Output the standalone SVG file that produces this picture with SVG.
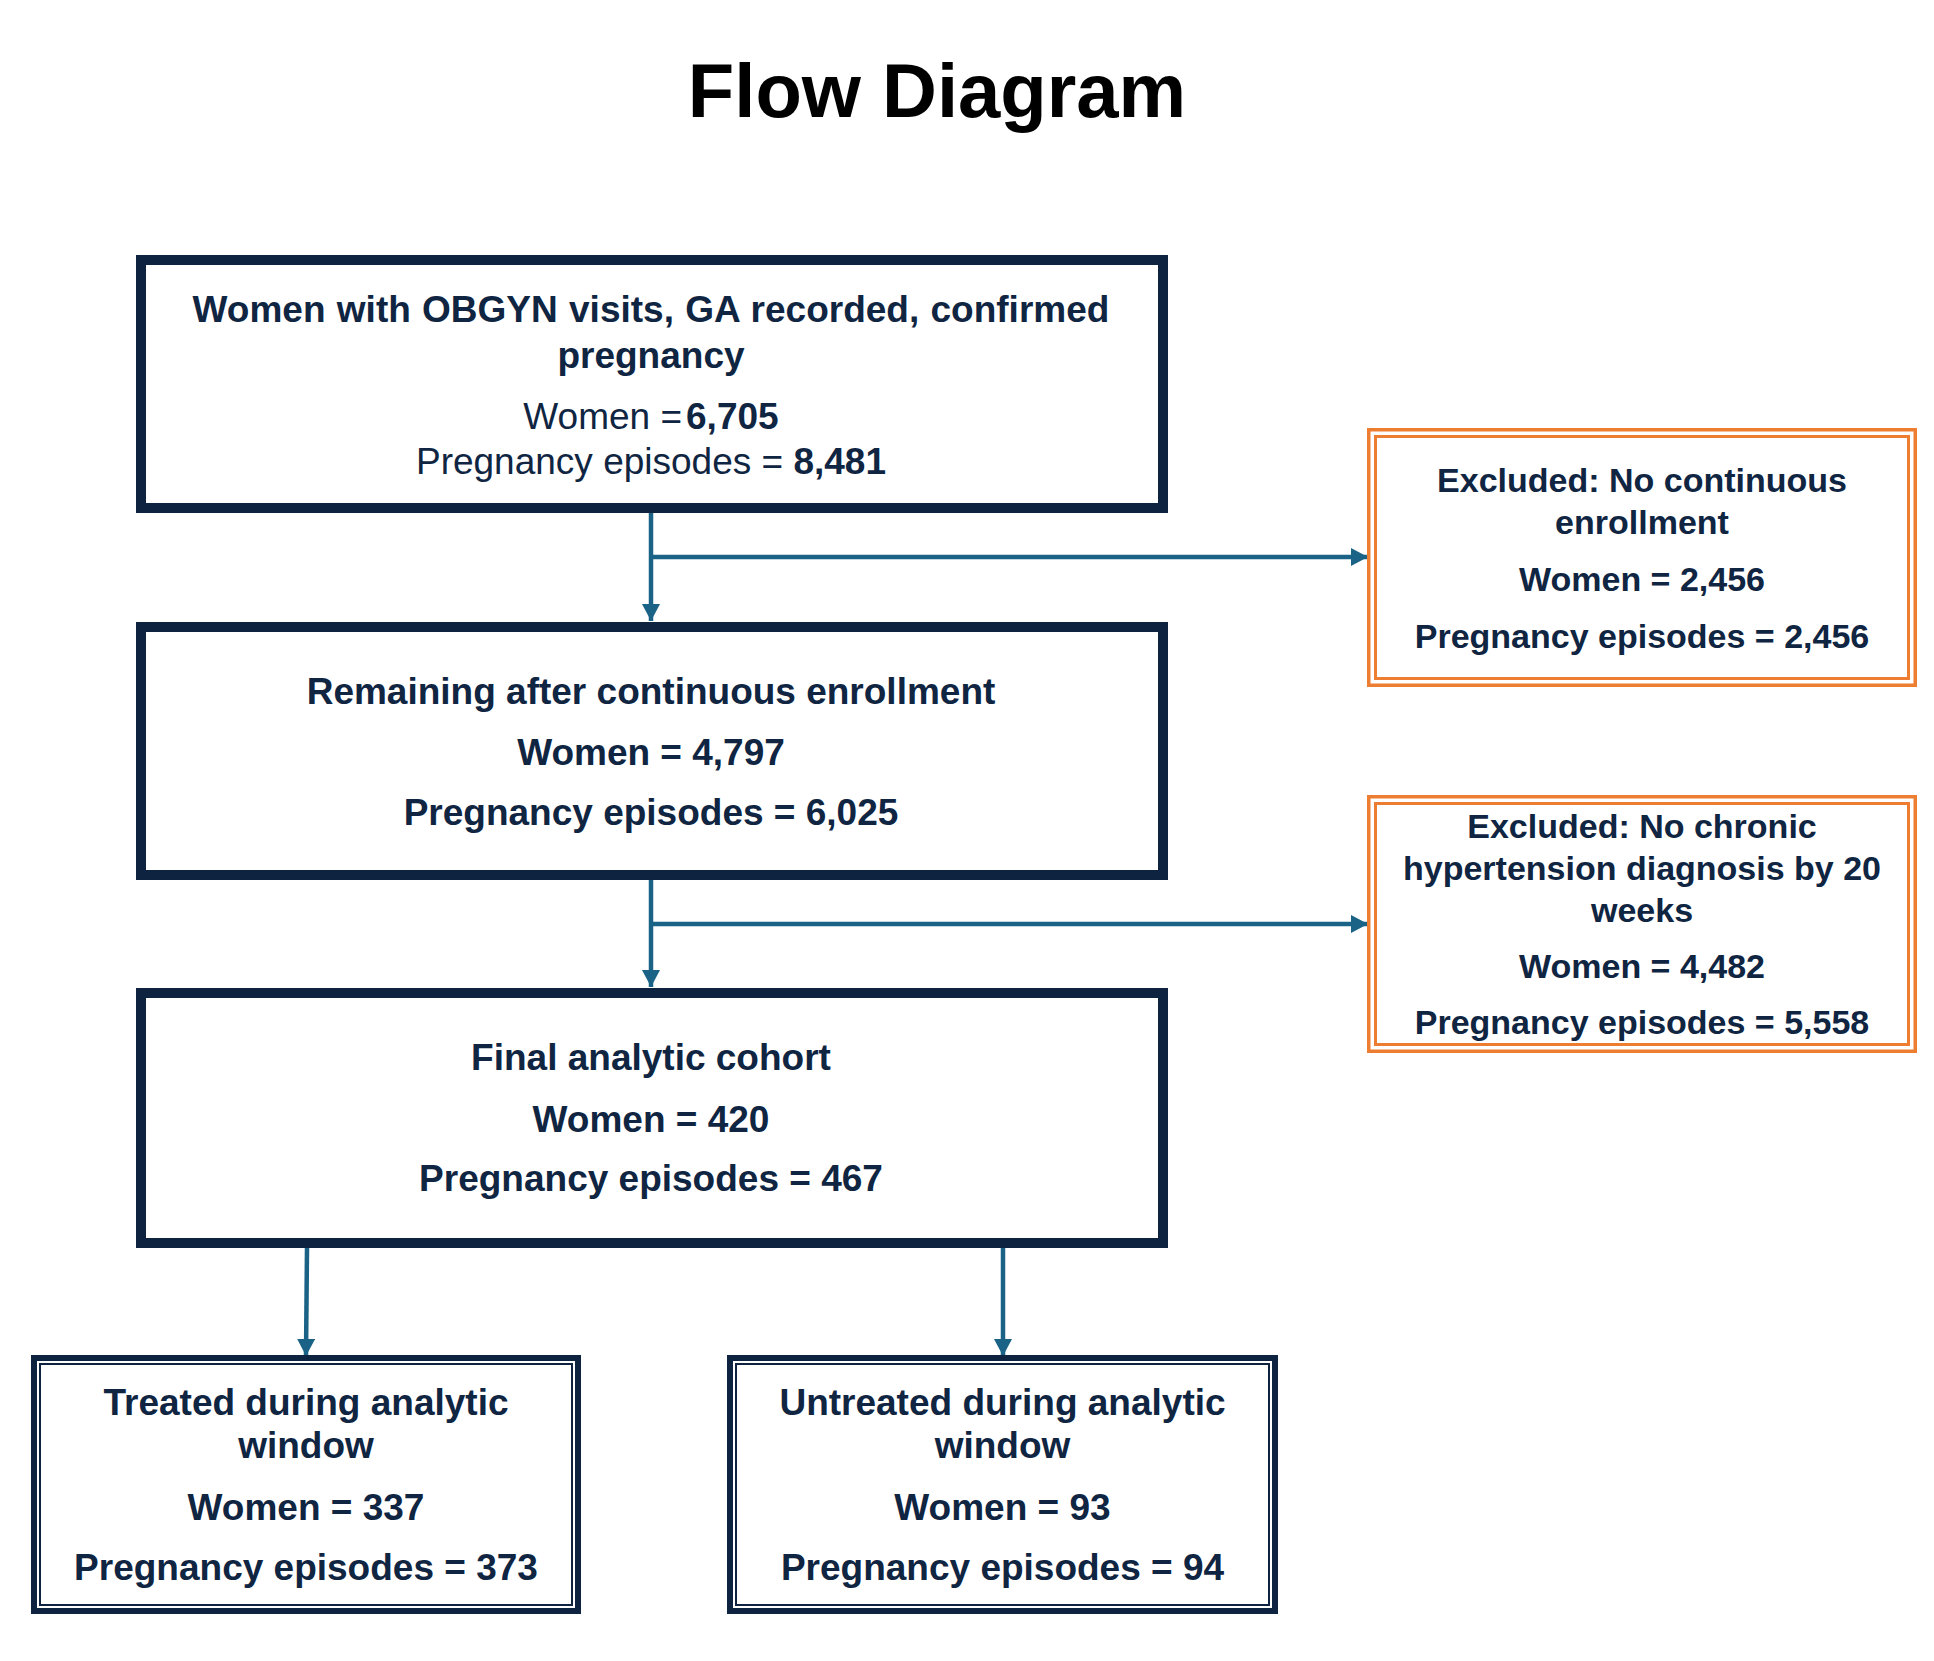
<svg xmlns="http://www.w3.org/2000/svg" width="1934" height="1661" viewBox="0 0 1934 1661">
  <style>
    .title { font-family: "Liberation Sans", Arial, sans-serif; font-weight: bold; font-size: 76px; fill: #000000; text-anchor: middle; }
    .t { font-family: "Liberation Sans", Arial, sans-serif; fill: #0f2542; text-anchor: middle; }
    .b37 { font-size: 37px; font-weight: bold; }
    .r37 { font-size: 37px; font-weight: normal; }
    .b34 { font-size: 34px; font-weight: bold; }
    .main { fill: #ffffff; stroke: #0e2340; stroke-width: 10; }
    .outer { fill: #ffffff; stroke: #0e2340; stroke-width: 6; }
    .inner { fill: none; stroke: #0e2340; stroke-width: 2; }
    .ex-outer { fill: #ffffff; stroke: #ed7d31; stroke-width: 3.5; }
    .ex-inner { fill: none; stroke: #ed7d31; stroke-width: 3; }
    .conn { fill: none; stroke: #1b6386; stroke-width: 4.5; }
  </style>
  <defs>
    <marker id="arrow" markerUnits="userSpaceOnUse" markerWidth="18" markerHeight="19" refX="17" refY="9" orient="auto">
      <path d="M0,0 L17,9 L0,18 z" fill="#1b6386"/>
    </marker>
  </defs>

  <rect width="1934" height="1661" fill="#ffffff"/>

  <text class="title" x="937" y="117">Flow Diagram</text>

  <!-- connectors -->
  <g id="connectors">
    <path class="conn" d="M651,513 V621" marker-end="url(#arrow)"/>
    <path class="conn" d="M651,557 H1368" marker-end="url(#arrow)"/>
    <path class="conn" d="M651,880 V987" marker-end="url(#arrow)"/>
    <path class="conn" d="M651,924 H1368" marker-end="url(#arrow)"/>
    <path class="conn" d="M307,1248 L306,1356" marker-end="url(#arrow)"/>
    <path class="conn" d="M1003,1248 V1356" marker-end="url(#arrow)"/>
  </g>

  <!-- initial population -->
  <g id="node-initial">
    <rect class="main" x="141" y="260" width="1022" height="248"/>
    <text class="t b37" x="651" y="322" word-spacing="1">Women with OBGYN visits, GA recorded, confirmed</text>
    <text class="t b37" x="651" y="368">pregnancy</text>
    <text class="t r37" x="651" y="429">Women =<tspan class="b37" dx="4">6,705</tspan></text>
    <text class="t r37" x="651" y="474">Pregnancy episodes = <tspan class="b37">8,481</tspan></text>
  </g>

  <!-- after continuous enrollment -->
  <g id="node-enrollment">
    <rect class="main" x="141" y="627" width="1022" height="248"/>
    <text class="t b37" x="651" y="704">Remaining after continuous enrollment</text>
    <text class="t b37" x="651" y="765">Women = 4,797</text>
    <text class="t b37" x="651" y="825">Pregnancy episodes = 6,025</text>
  </g>

  <!-- final cohort -->
  <g id="node-cohort">
    <rect class="main" x="141" y="993" width="1022" height="250"/>
    <text class="t b37" x="651" y="1070">Final analytic cohort</text>
    <text class="t b37" x="651" y="1132">Women = 420</text>
    <text class="t b37" x="651" y="1191">Pregnancy episodes = 467</text>
  </g>

  <!-- exclusion: enrollment -->
  <g id="node-excluded-enrollment">
    <rect class="ex-outer" x="1368.75" y="429.75" width="546.5" height="255.5"/>
    <rect class="ex-inner" x="1375.5" y="436.5" width="533" height="242"/>
    <text class="t b34" x="1642" y="492">Excluded: No continuous</text>
    <text class="t b34" x="1642" y="534">enrollment</text>
    <text class="t b34" x="1642" y="591">Women = 2,456</text>
    <text class="t b34" x="1642" y="648">Pregnancy episodes = 2,456</text>
  </g>

  <!-- exclusion: hypertension -->
  <g id="node-excluded-hypertension">
    <rect class="ex-outer" x="1368.75" y="796.75" width="546.5" height="254.5"/>
    <rect class="ex-inner" x="1375.5" y="803.5" width="533" height="241"/>
    <text class="t b34" x="1642" y="838">Excluded: No chronic</text>
    <text class="t b34" x="1642" y="880">hypertension diagnosis by 20</text>
    <text class="t b34" x="1642" y="922">weeks</text>
    <text class="t b34" x="1642" y="978">Women = 4,482</text>
    <text class="t b34" x="1642" y="1034">Pregnancy episodes = 5,558</text>
  </g>

  <!-- treated -->
  <g id="node-treated">
    <rect class="outer" x="34" y="1358" width="544" height="253"/>
    <rect class="inner" x="40" y="1364" width="532" height="241"/>
    <text class="t b37" x="306" y="1415">Treated during analytic</text>
    <text class="t b37" x="306" y="1458">window</text>
    <text class="t b37" x="306" y="1520">Women = 337</text>
    <text class="t b37" x="306" y="1580">Pregnancy episodes = 373</text>
  </g>

  <!-- untreated -->
  <g id="node-untreated">
    <rect class="outer" x="730" y="1358" width="545" height="253"/>
    <rect class="inner" x="736" y="1364" width="533" height="241"/>
    <text class="t b37" x="1002.5" y="1415">Untreated during analytic</text>
    <text class="t b37" x="1002.5" y="1458">window</text>
    <text class="t b37" x="1002.5" y="1520">Women = 93</text>
    <text class="t b37" x="1002.5" y="1580">Pregnancy episodes = 94</text>
  </g>
</svg>
